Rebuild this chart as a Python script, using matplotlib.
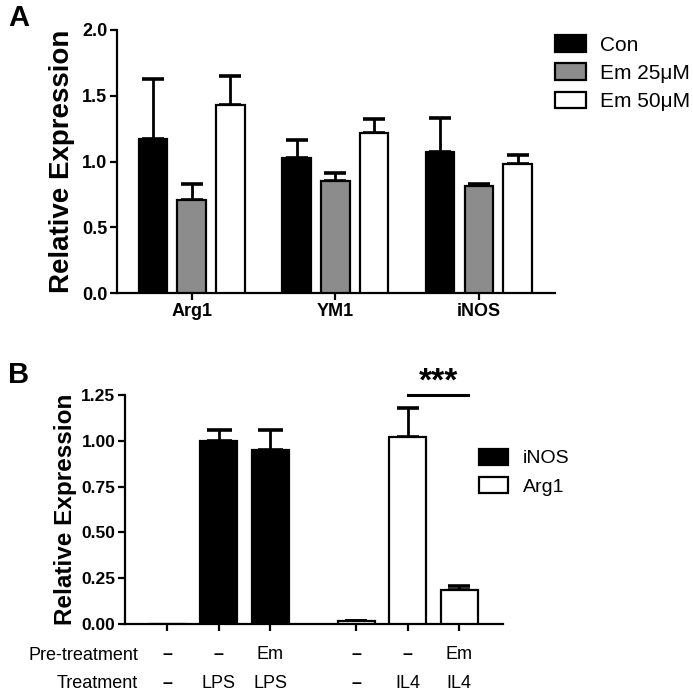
import numpy as np
import matplotlib
matplotlib.use('Agg')
import matplotlib.pyplot as plt

plt.rcParams['font.family'] = ['Liberation Sans', 'DejaVu Sans']

# ---- dades panell A
genes = ['Arg1', 'YM1', 'iNOS']
grups_A = ['Con', 'Em 25μM', 'Em 50μM']
mitjana_A = [[1.17, 1.03, 1.07],      # Con
             [0.71, 0.85, 0.81],      # Em 25
             [1.43, 1.22, 0.98]]      # Em 50
error_A = [[0.46, 0.13, 0.26],
           [0.12, 0.06, 0.02],
           [0.22, 0.10, 0.07]]
colors_A = ['black', '#8c8c8c', 'white']

# ---- dades panell B
pos_B = [0, 1, 2, 3.67, 4.67, 5.67]
pretract = ['–', '–', 'Em', '–', '–', 'Em']
tract = ['–', 'LPS', 'LPS', '–', 'IL4', 'IL4']
inos_B = [0.0, 1.00, 0.95]
inos_err = [0.0, 0.06, 0.11]
arg1_B = [0.015, 1.02, 0.185]
arg1_err = [0.003, 0.16, 0.025]

fig = plt.figure(figsize=(6.93, 6.92), dpi=100)

lw = 1.6
# ================= Panell A
axA = fig.add_axes([117/693, 1-293/692, (555-117)/693, (293-30)/692])
x = np.arange(len(genes))
amp = 0.2
off = 0.27
for i in range(3):
    xi = x + (i-1)*off
    axA.bar(xi, mitjana_A[i], amp, color=colors_A[i], edgecolor='black',
            linewidth=lw, label=grups_A[i], zorder=3)
    axA.errorbar(xi, mitjana_A[i], yerr=[np.zeros(3), error_A[i]], fmt='none',
                 ecolor='black', elinewidth=lw+0.4, capsize=8, capthick=lw+1, zorder=2)
axA.set_xlim(-0.52, 2.53)
axA.set_ylim(0, 2.0)
axA.set_yticks([0, 0.5, 1.0, 1.5, 2.0])
axA.set_yticklabels(['0.0', '0.5', '1.0', '1.5', '2.0'])
axA.set_xticks(x)
axA.set_xticklabels(genes, fontsize=15, fontweight='bold')
axA.set_ylabel('Relative Expression', fontsize=20, fontweight='bold', labelpad=5)
for s in ['top', 'right']:
    axA.spines[s].set_visible(False)
for s in ['left', 'bottom']:
    axA.spines[s].set_linewidth(lw)
axA.tick_params(width=lw, length=5, labelsize=13, pad=2)
for t in axA.get_yticklabels():
    t.set_fontweight('bold')
axA.legend(loc='upper left', bbox_to_anchor=(555/693, 1-35/692), bbox_transform=fig.transFigure,
           frameon=False, fontsize=15, handlelength=1.5, handleheight=0.85,
           handletextpad=0.65, labelspacing=0.42, borderpad=0, borderaxespad=0)
fig.text(8/693, 1-18/692, 'A', fontsize=21, fontweight='bold', va='center')

# ================= Panell B
axB = fig.add_axes([125/693, 1-624/692, (503-125)/693, (624-395)/692])
ampB = 0.72
axB.bar(pos_B[:3], inos_B, ampB, color='black', edgecolor='black', linewidth=lw,
        label='iNOS', zorder=3)
axB.errorbar(pos_B[1:3], inos_B[1:], yerr=[np.zeros(2), inos_err[1:]], fmt='none',
             ecolor='black', elinewidth=lw+0.4, capsize=9, capthick=lw+1, zorder=2)
axB.bar(pos_B[3:], arg1_B, ampB, color='white', edgecolor='black', linewidth=lw,
        label='Arg1', zorder=3)
axB.errorbar(pos_B[3:], arg1_B, yerr=[np.zeros(3), arg1_err], fmt='none',
             ecolor='black', elinewidth=lw+0.4, capsize=8, capthick=lw+1, zorder=2)
axB.set_xlim(-0.82, 6.52)
axB.set_ylim(0, 1.25)
axB.set_yticks([0, 0.25, 0.5, 0.75, 1.0, 1.25])
axB.set_yticklabels(['0.00', '0.25', '0.50', '0.75', '1.00', '1.25'])
axB.set_xticks(pos_B)
axB.set_xticklabels([])
axB.set_ylabel('Relative Expression', fontsize=17.5, fontweight='bold', labelpad=3)
for s in ['top', 'right']:
    axB.spines[s].set_visible(False)
for s in ['left', 'bottom']:
    axB.spines[s].set_linewidth(lw)
axB.tick_params(width=lw, length=5, labelsize=12.5, pad=2)
for t in axB.get_yticklabels():
    t.set_fontweight('bold')

# files de tractament sota l'eix
tr = axB.get_xaxis_transform()
for p, a, b in zip(pos_B, pretract, tract):
    axB.text(p, -0.135, a, transform=tr, ha='center', va='center', fontsize=13,
             fontweight='bold' if a == '–' else 'normal')
    axB.text(p, -0.258, b, transform=tr, ha='center', va='center', fontsize=13,
             fontweight='bold' if b == '–' else 'normal')
fig.text(138/693, 1-655/692, 'Pre-treatment', ha='right', va='center', fontsize=13)
fig.text(138/693, 1-683/692, 'Treatment', ha='right', va='center', fontsize=13)

# significacio
axB.plot([4.67, 5.85], [1.25, 1.25], color='black', linewidth=2.2, clip_on=False)
axB.text(5.26, 1.235, '***', ha='center', va='bottom', fontsize=24, fontweight='bold')

axB.legend(loc='upper left', bbox_to_anchor=(479/693, 1-449/692), bbox_transform=fig.transFigure,
           frameon=False, fontsize=14, handlelength=1.5, handleheight=0.85,
           handletextpad=0.75, labelspacing=0.5, borderpad=0, borderaxespad=0)
fig.text(8/693, 1-375/692, 'B', fontsize=21, fontweight='bold', va='center')

fig.savefig('out.png', dpi=100)
